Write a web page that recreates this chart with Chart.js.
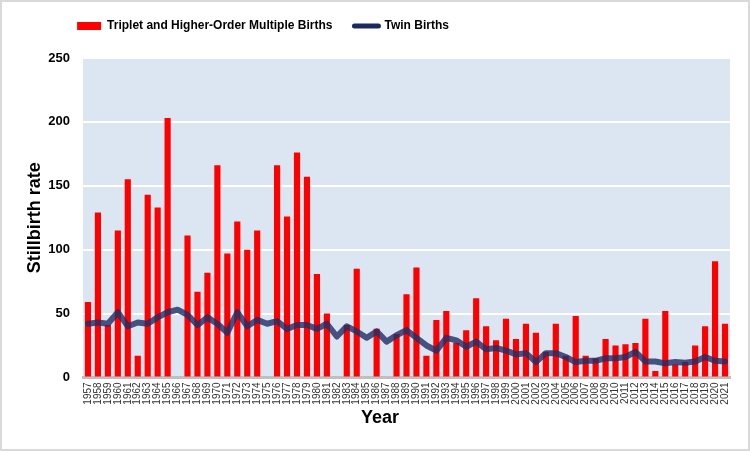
<!DOCTYPE html>
<html>
<head>
<meta charset="utf-8">
<script src="https://cdn.jsdelivr.net/npm/chart.js@4"></script>
<style>
  html, body { margin: 0; padding: 0; background: #fff; }
  #wrap { width: 750px; height: 451px; box-sizing: border-box; border: 2px solid #d9d9d9; background: #fff; }
</style>
</head>
<body>
<div id="wrap"><canvas id="stillbirth-chart" width="746" height="447"></canvas></div>
<script>
// anos e taxas de natimortos
const years = ['1957','1958','1959','1960','1961','1962','1963','1964','1965','1966',
  '1967','1968','1969','1970','1971','1972','1973','1974','1975','1976',
  '1977','1978','1979','1980','1981','1982','1983','1984','1985','1986',
  '1987','1988','1989','1990','1991','1992','1993','1994','1995','1996',
  '1997','1998','1999','2000','2001','2002','2003','2004','2005','2006',
  '2007','2008','2009','2010','2011','2012','2013','2014','2015','2016',
  '2017','2018','2019','2020','2021'];

const tripletRates = [59, 129, 41, 115, 155, 17, 143, 133, 203, null,
  111, 67, 82, 166, 97, 122, 100, 115, null, 166,
  126, 176, 157, 81, 50, null, 41, 85, null, 38,
  null, 34, 65, 86, 17, 45, 52, 27, 37, 62,
  40, 29, 46, 30, 42, 35, 20, 42, 17, 48,
  17, 15, 30, 25, 26, 27, 46, 5, 52, 10,
  12, 25, 40, 91, 42];

const twinRates = [42, 43, 42, 51, 40, 43, 42, 47, 51, 53,
  49, 41, 47, 42, 35, 51, 40, 45, 42, 44,
  38, 41, 41, 38, 42, 32, 40, 36, 31, 36,
  28, 33, 37, 31, 25, 21, 31, 29, 24, 28,
  22, 23, 21, 18, 19, 12, 19, 19, 16, 12,
  13, 13, 15, 15, 16, 20, 12.5, 12.5, 11, 12,
  11.5, 12.5, 16, 13, 12.5];

const yTicks = [0, 50, 100, 150, 200, 250];

const seriesNames = ['Triplet and Higher-Order Multiple Births', 'Twin Births'];

// fundo azul da área do gráfico
const plotBg = {
    id: 'plotBg',
    beforeDraw(chart) {
        const { ctx, chartArea: a } = chart;
        ctx.save();
        ctx.fillStyle = '#dce6f2';
        ctx.fillRect(a.left, a.top, a.right - a.left, a.bottom - a.top);
        ctx.restore();
    }
};

// altura fixa da legenda + deslocamento horizontal da legenda e do título
const boxTweaks = {
    id: 'boxTweaks',
    beforeUpdate(chart) {
        const lg = chart.legend;
        if (lg && !lg._patched) {
            const fit = lg.fit;
            lg.fit = function () { fit.call(this); this.height = 60; };
            lg._patched = true;
        }
    },
    afterLayout(chart) {
        const lg = chart.legend;
        if (lg) {
            const pad = lg.options.labels.padding;
            const shift = 272 - (lg.left + lg.right + pad) / 2;
            lg.left += shift;
            lg.right += shift;
        }
        const tb = chart.titleBlock;
        if (tb) {
            const shift = 378 - (tb.left + tb.right) / 2;
            tb.left += shift;
            tb.right += shift;
        }
    }
};

const ctx = document.getElementById('stillbirth-chart').getContext('2d');

new Chart(ctx, {
    type: 'bar',
    data: {
        labels: years,
        datasets: [
            {
                type: 'bar',
                label: seriesNames[0],
                data: tripletRates,
                backgroundColor: '#ff0000',
                barPercentage: 0.62,
                categoryPercentage: 1,
                order: 1
            },
            {
                type: 'line',
                label: seriesNames[1],
                data: twinRates,
                borderColor: 'rgba(31, 45, 100, 0.8)',
                borderWidth: 6,
                borderJoinStyle: 'round',
                borderCapStyle: 'round',
                pointRadius: 0,
                tension: 0,
                order: 0
            }
        ]
    },
    options: {
        responsive: false,
        animation: false,
        layout: { padding: { top: -4, right: 18, left: 0, bottom: 0 } },
        plugins: {
            tooltip: { enabled: false },
            legend: {
                position: 'top',
                labels: {
                    usePointStyle: true,
                    pointStyleWidth: 24,
                    boxHeight: 8,
                    padding: 22,
                    color: '#000',
                    font: { family: '"Liberation Sans Narrow", "Liberation Sans", Arial', size: 12, weight: 'bold' },
                    generateLabels(chart) {
                        return chart.data.datasets.map((ds, i) => ({
                            text: ds.label,
                            datasetIndex: i,
                            pointStyle: ds.type === 'line' ? 'line' : 'rect',
                            fillStyle: ds.type === 'line' ? '#1b2a5e' : ds.backgroundColor,
                            strokeStyle: ds.type === 'line' ? '#1b2a5e' : ds.backgroundColor,
                            lineWidth: ds.type === 'line' ? 5 : 0,
                            lineCap: 'round',
                            fontColor: '#000'
                        }));
                    }
                }
            },
            title: {
                display: true,
                position: 'bottom',
                text: 'Year',
                color: '#000',
                font: { family: '"Liberation Sans", Arial', size: 18, weight: 'bold' },
                padding: { top: 0, bottom: 20 }
            }
        },
        scales: {
            x: {
                offset: true,
                grid: { display: false, drawTicks: false },
                border: { display: true, color: '#bfbfbf', width: 3 },
                ticks: {
                    autoSkip: false,
                    maxRotation: 90,
                    minRotation: 90,
                    padding: 5,
                    color: '#333',
                    font: { family: '"Liberation Sans", Arial', size: 10 }
                },
                afterFit(scale) { scale.height = 30; }
            },
            y: {
                min: 0,
                max: 250,
                afterBuildTicks(scale) { scale.ticks = yTicks.map(v => ({ value: v })); },
                grid: { color: '#ffffff', lineWidth: 2, drawTicks: false },
                border: { display: false },
                ticks: {
                    padding: 13,
                    color: '#000',
                    font: { family: '"Liberation Sans", Arial', size: 13, weight: 'bold' }
                },
                title: {
                    display: true,
                    text: 'Stillbirth rate',
                    color: '#000',
                    font: { family: '"Liberation Sans", Arial', size: 18, weight: 'bold' },
                    padding: { top: 22, bottom: 0 }
                },
                afterFit(scale) { scale.width = 81; }
            }
        }
    },
    plugins: [plotBg, boxTweaks]
});
</script>
</body>
</html>
